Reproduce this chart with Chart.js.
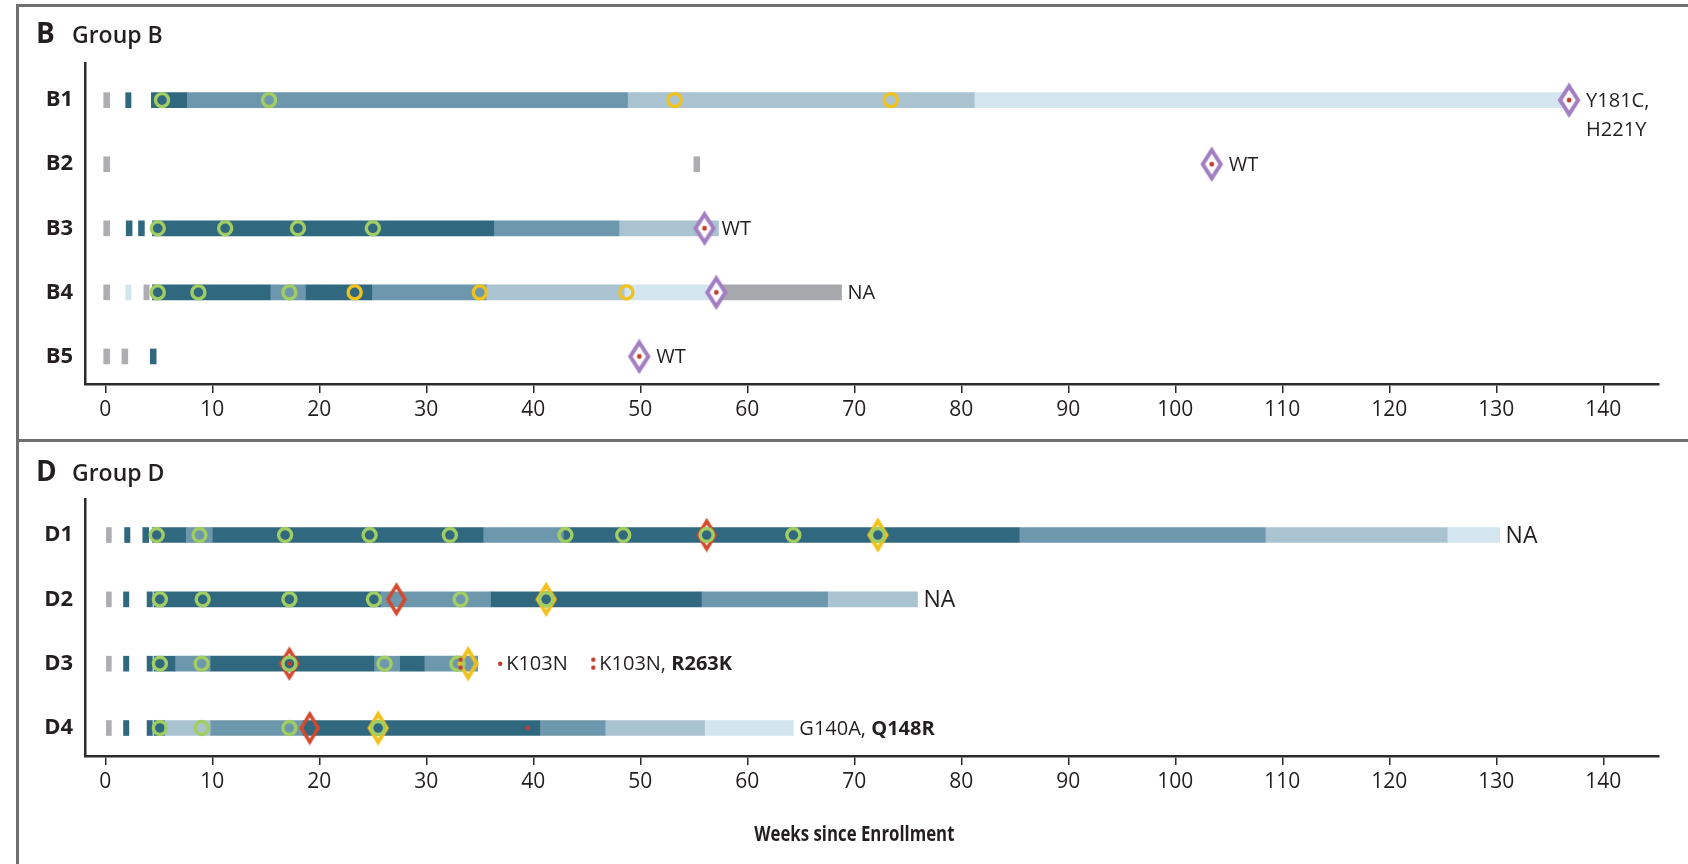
<!DOCTYPE html>
<html><head><meta charset="utf-8">
<script src="https://cdn.jsdelivr.net/npm/chart.js@4.4.1/dist/chart.umd.min.js"></script>
<style>
html,body{margin:0;padding:0;background:#fff;}
#wrap{position:relative;width:1688px;height:864px;overflow:hidden;}
#frameTop{position:absolute;left:16px;top:4px;width:1700px;height:0;border-top:3px solid #707070;}
#frameLeft{position:absolute;left:16px;top:4px;width:0;height:900px;border-left:3px solid #707070;}
#sep{position:absolute;left:16px;top:439px;width:1700px;height:0;border-top:3px solid #707070;}
#pB{position:absolute;left:0;top:0;}
#pD{position:absolute;left:0;top:441px;}
</style></head>
<body><div id="wrap"><div id="frameTop"></div><div id="frameLeft"></div><div id="sep"></div>
<div id="pB"><canvas id="cB" width="1688" height="441"></canvas></div>
<div id="pD"><canvas id="cD" width="1688" height="423"></canvas></div></div>
<script>
// ---------------- DATA ----------------
const weekTicks = [0,10,20,30,40,50,60,70,80,90,100,110,120,130,140];
const axisTitle = 'Weeks since Enrollment';

const rowsB = ['B1','B2','B3','B4','B5'];
const rowsD = ['D1','D2','D3','D4'];

// [row, startWeek, endWeek, phase]
const segmentsB = [
  ['B1',-0.15,0.4,'pre'],['B1',1.9,2.4,'p1'],['B1',4.3,7.6,'p1'],['B1',7.6,48.8,'p2'],['B1',48.8,81.2,'p3'],['B1',81.2,136.8,'p4'],
  ['B2',-0.15,0.4,'pre'],['B2',55.0,55.55,'pre'],
  ['B3',-0.15,0.4,'pre'],['B3',1.95,2.5,'p1'],['B3',3.1,3.65,'p1'],['B3',4.4,36.3,'p1'],['B3',36.3,48.0,'p2'],['B3',48.0,57.3,'p3'],
  ['B4',-0.15,0.4,'pre'],['B4',1.9,2.4,'p4'],['B4',3.6,4.1,'pre'],['B4',4.4,15.4,'p1'],['B4',15.4,18.7,'p2'],['B4',18.7,24.9,'p1'],['B4',24.9,35.6,'p2'],['B4',35.6,48.5,'p3'],['B4',48.5,57.1,'p4'],['B4',57.1,68.8,'off'],
  ['B5',-0.15,0.4,'pre'],['B5',1.55,2.1,'pre'],['B5',4.2,4.75,'p1']
];
const segmentsD = [
  ['D1',0.1,0.56,'pre'],['D1',1.8,2.3,'p1'],['D1',3.5,4.05,'p1'],['D1',4.4,7.5,'p1'],['D1',7.5,10.0,'p2'],['D1',10.0,35.3,'p1'],['D1',35.3,42.8,'p2'],['D1',42.8,85.4,'p1'],['D1',85.4,108.4,'p2'],['D1',108.4,125.4,'p3'],['D1',125.4,130.3,'p4'],
  ['D2',0.1,0.56,'pre'],['D2',1.7,2.2,'p1'],['D2',3.9,4.4,'p1'],['D2',4.55,25.7,'p1'],['D2',25.7,36.0,'p2'],['D2',36.0,55.7,'p1'],['D2',55.7,67.5,'p2'],['D2',67.5,75.9,'p3'],
  ['D3',0.1,0.56,'pre'],['D3',1.7,2.2,'p1'],['D3',3.9,4.4,'p1'],['D3',4.55,6.5,'p1'],['D3',6.5,9.8,'p2'],['D3',9.8,25.1,'p1'],['D3',25.1,27.5,'p2'],['D3',27.5,29.8,'p1'],['D3',29.8,34.8,'p2'],
  ['D4',0.1,0.56,'pre'],['D4',1.7,2.2,'p1'],['D4',3.9,4.4,'p1'],['D4',4.55,5.5,'p1'],['D4',5.5,9.8,'p3'],['D4',9.8,18.5,'p2'],['D4',18.5,40.6,'p1'],['D4',40.6,46.7,'p2'],['D4',46.7,56.0,'p3'],['D4',56.0,64.3,'p4']
];

// markers: [row, week]
const greenCirclesB = [['B1',5.3],['B1',15.3],['B3',4.9],['B3',11.2],['B3',18.0],['B3',25.0],['B4',4.9],['B4',8.7],['B4',17.2]];
const yellowCirclesB = [['B1',53.2],['B1',73.4],['B4',23.3],['B4',35.0],['B4',48.7]];
const genotypeDiamondsB = [['B1',136.8],['B2',103.4],['B3',56.0],['B4',57.1],['B5',49.9]];

const greenCirclesD = [
  ['D1',4.8],['D1',8.8],['D1',16.8],['D1',24.7],['D1',32.2],['D1',43.0],['D1',48.4],['D1',56.2],['D1',64.3],['D1',72.2],
  ['D2',5.1],['D2',9.1],['D2',17.2],['D2',25.1],['D2',33.2],['D2',41.2],
  ['D3',5.1],['D3',9.0],['D3',17.2],['D3',26.1],['D3',32.9],
  ['D4',5.1],['D4',9.0],['D4',17.2],['D4',25.5]
];
const redDiamondsD = [['D1',56.2],['D2',27.2],['D3',17.2],['D4',19.1]];
const yellowDiamondsD = [['D1',72.2],['D2',41.2],['D3',33.9],['D4',25.5]];
const redDotsD = [['D3',17.2],['D3',36.9],['D4',39.5]];
const redDotPairsD = [['D3',33.2],['D3',45.6]];

// text annotations: [row, week, anchor, lines]  (*...* = bold)
const labelsB = [
  ['B1',136.8,'marker',['Y181C,','H221Y']],
  ['B2',103.4,'marker',['WT']],
  ['B3',56.0,'marker',['WT']],
  ['B4',68.8,'barEnd',['NA']],
  ['B5',49.9,'marker',['WT']]
];
const labelsD = [
  ['D1',130.3,'barEnd',['NA']],
  ['D2',75.9,'barEnd',['NA']],
  ['D3',36.9,'dot',['K103N']],
  ['D3',45.6,'dot',['K103N, *R263K*']],
  ['D4',64.3,'barEnd',['G140A, *Q148R*']]
];

// ---------------- STYLE ----------------
const FONT = "'Open Sans', 'Noto Sans', sans-serif";
const PHASE = {pre:'#adaeb2', p1:'#30687f', p2:'#6c97ac', p3:'#aac3d1', p4:'#d3e5ef', off:'#a7a8ac'};
const GREEN = '#a2cd63', YELLOW = '#f1c21b', PURPLE = '#a27dc3', RED = '#d4482b', DOT = '#c23a2c';
const TXT = '#231f20', AXIS = '#2b2b2b';

function diamondCanvas(w, h, lw, stroke, fill, dot) {
  const c = document.createElement('canvas');
  c.width = w + lw * 2; c.height = h + lw * 2;
  const g = c.getContext('2d');
  const cx = c.width / 2, cy = c.height / 2;
  g.beginPath();
  g.moveTo(cx, cy - h / 2); g.lineTo(cx + w / 2, cy); g.lineTo(cx, cy + h / 2); g.lineTo(cx - w / 2, cy); g.closePath();
  if (fill) { g.fillStyle = fill; g.fill(); }
  g.lineWidth = lw; g.strokeStyle = stroke; g.lineJoin = 'miter'; g.stroke();
  if (dot) { g.beginPath(); g.arc(cx, cy, 2.4, 0, Math.PI * 2); g.fillStyle = dot; g.fill(); }
  return c;
}
function dotPairCanvas() {
  const c = document.createElement('canvas');
  c.width = 8; c.height = 16;
  const g = c.getContext('2d'); g.fillStyle = DOT;
  [4, 12].forEach(y => { g.beginPath(); g.arc(4, y, 2.2, 0, Math.PI * 2); g.fill(); });
  return c;
}
const purpleDiamond = diamondCanvas(18, 28, 4, PURPLE, '#ffffff', DOT);
const redDiamond = diamondCanvas(17, 28, 3.5, RED, null, null);
const yellowDiamond = diamondCanvas(17, 28, 4, YELLOW, null, null);
const dotPair = dotPairCanvas();

const annotate = {
  id: 'annotate',
  afterDraw(chart) {
    const o = chart.options.plugins.annotate;
    const {ctx} = chart;
    const x = chart.scales.x, y = chart.scales.y;
    ctx.save();
    ctx.fillStyle = TXT;
    ctx.textBaseline = 'middle';
    ctx.textAlign = 'left';
    const offsets = {marker: 17, barEnd: 6, dot: 6};
    o.labels.forEach(([row, wk, anchor, lines]) => {
      const px0 = x.getPixelForValue(wk) + offsets[anchor];
      const py0 = y.getPixelForValue(o.rows.indexOf(row) + 1);
      const size = (lines[0] === 'NA' && o.bigNA) ? 23 : o.textSize;
      lines.forEach((line, li) => {
        let px = px0;
        line.split('*').forEach((part, pi) => {
          if (!part) return;
          ctx.font = `${pi % 2 ? 700 : 400} ${size}px ${FONT}`;
          ctx.fillText(part, px, py0 + li * 29 + 1);
          px += ctx.measureText(part).width;
        });
      });
    });
    // panel title
    ctx.textBaseline = 'alphabetic';
    ctx.font = `700 28px ${FONT}`;
    ctx.fillText(o.letter, 36, o.titleY);
    ctx.font = `600 23px ${FONT}`;
    ctx.fillText(o.name, 72, o.titleY);
    if (o.axisTitle) {
      ctx.font = `700 21px ${FONT}`;
      ctx.textAlign = 'center';
      const cx = x.getPixelForValue(70);
      ctx.translate(cx, o.axisTitleY);
      ctx.scale(0.8, 1);
      ctx.fillText(o.axisTitle, 0, 0);
    }
    ctx.restore();
  }
};

function build(id, rows, segs, markerSets, labels, extra) {
  const rv = r => rows.indexOf(r) + 1;
  const datasets = segs.map(s => ({
    type: 'bar', indexAxis: 'y', grouped: false, barThickness: 15, order: 10,
    data: [{x: [s[1], s[2]], y: rv(s[0])}],
    backgroundColor: PHASE[s[3]], borderWidth: 0, borderSkipped: false
  }));
  markerSets.forEach(m => {
    datasets.push(Object.assign({
      type: 'scatter',
      data: m.data.map(d => ({x: d[1], y: rv(d[0])}))
    }, m.style));
  });
  return new Chart(document.getElementById(id), {
    type: 'bar',
    data: {datasets},
    plugins: [annotate],
    options: {
      responsive: false, animation: false, events: [],
      layout: {padding: {left: 0, right: 29, top: extra.top, bottom: 0}},
      plugins: {
        legend: {display: false}, tooltip: {enabled: false},
        annotate: Object.assign({labels, rows}, extra.ann)
      },
      scales: {
        x: {
          type: 'linear', position: 'bottom', min: -1.9, max: 145.2, offset: false,
          afterBuildTicks: s => { s.ticks = weekTicks.map(v => ({value: v})); },
          afterFit: s => { s.height = extra.xh; },
          border: {display: true, color: AXIS, width: 2.5},
          grid: {offset: false, drawOnChartArea: false, drawTicks: true, tickLength: 9, color: AXIS, lineWidth: 1.5},
          ticks: {color: TXT, padding: 4, font: {family: FONT, size: 21}, maxRotation: 0, autoSkip: false}
        },
        y: {
          type: 'linear', reverse: true, min: extra.ymin, max: extra.ymax, offset: false, beginAtZero: false,
          afterBuildTicks: s => { s.ticks = rows.map((r, i) => ({value: i + 1})); },
          afterFit: s => { s.width = 85; },
          border: {display: true, color: AXIS, width: 2.5},
          grid: {offset: false, display: false, drawTicks: false},
          ticks: {color: TXT, padding: 12, font: {family: FONT, size: 22, weight: 700},
                  callback: v => rows[v - 1]}
        }
      }
    }
  });
}

const circleStyle = (c) => ({pointStyle: 'circle', radius: 6.5, borderWidth: 3.4, borderColor: c, backgroundColor: 'rgba(0,0,0,0)', order: 3});
const imgStyle = (img, ord) => ({pointStyle: img, radius: 10, order: ord});

build('cB', rowsB, segmentsB, [
  {data: greenCirclesB, style: circleStyle(GREEN)},
  {data: yellowCirclesB, style: circleStyle(YELLOW)},
  {data: genotypeDiamondsB, style: imgStyle(purpleDiamond, 2)}
], labelsB, {top: 63, xh: 57, ymin: 0.42, ymax: 5.43,
  ann: {letter: 'B', name: 'Group B', titleY: 43, textSize: 20, bigNA: false}});

build('cD', rowsD, segmentsD, [
  {data: redDiamondsD, style: imgStyle(redDiamond, 5)},
  {data: yellowDiamondsD, style: imgStyle(yellowDiamond, 4)},
  {data: greenCirclesD, style: circleStyle(GREEN)},
  {data: redDotsD, style: {pointStyle: 'circle', radius: 2.2, borderWidth: 0, backgroundColor: DOT, order: 1}},
  {data: redDotPairsD, style: imgStyle(dotPair, 1)}
], labelsD, {top: 58, xh: 108, ymin: 0.44, ymax: 4.435,
  ann: {letter: 'D', name: 'Group D', titleY: 40, textSize: 20, bigNA: true, axisTitle: axisTitle, axisTitleY: 400}});
</script></body></html>
